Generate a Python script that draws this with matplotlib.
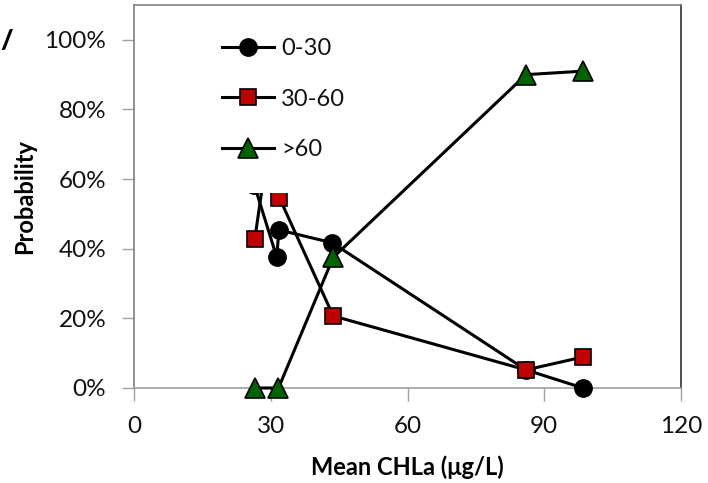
import matplotlib
matplotlib.use("Agg")
import matplotlib.pyplot as plt
from matplotlib.patches import Rectangle
from matplotlib.ticker import FuncFormatter

plt.rcParams['font.family'] = ['Lato', 'DejaVu Sans']

# Data (x = mean CHLa, y = probability)
x_0_30 = [26.4, 31.3, 31.8, 43.5, 86.0, 98.5]
y_0_30 = [0.583, 0.376, 0.454, 0.417, 0.052, 0.0]

x_30_60 = [26.5, 29.5, 31.9, 43.7, 86.0, 98.5]
y_30_60 = [0.428, 0.70, 0.546, 0.207, 0.052, 0.089]

x_gt60 = [26.5, 31.7, 43.7, 86.0, 98.5]
y_gt60 = [0.0, 0.0, 0.375, 0.90, 0.91]

labels = ['0-30', '30-60', '>60']
x_ticks = [0, 30, 60, 90, 120]
y_ticks = [0.0, 0.2, 0.4, 0.6, 0.8, 1.0]

fig = plt.figure(figsize=(7.08, 4.83), dpi=100)
ax = fig.add_axes([134/708, 1-388/483, (681-134)/708, (388-5)/483])

lw = 2.2
ax.plot(x_0_30, y_0_30, color='black', lw=lw, marker='o', ms=12.5,
        mfc='black', mec='black', mew=1, label=labels[0], clip_on=False, zorder=3)
ax.plot(x_30_60, y_30_60, color='black', lw=lw, marker='s', ms=12,
        mfc='#C00000', mec='black', mew=1.2, label=labels[1], clip_on=False, zorder=3.1)
ax.plot(x_gt60, y_gt60, color='black', lw=lw, marker='^', ms=14,
        mfc='#006400', mec='black', mew=1.2, label=labels[2], clip_on=False, zorder=3.2)

ax.set_xlim(0, 120)
ax.set_ylim(0, 1.1)
ax.set_xticks(x_ticks)
ax.set_yticks(y_ticks)
ax.yaxis.set_major_formatter(FuncFormatter(lambda v, p: f"{v*100:.0f}%"))
ax.tick_params(axis='both', labelsize=17.5, length=9, width=1, color='#A0A0A0',
               direction='out', labelcolor='#111111')
ax.tick_params(axis='x', pad=11)
ax.tick_params(axis='y', pad=11)
for s in ['left', 'top']:
    ax.spines[s].set_color('#808080')
ax.spines['bottom'].set_color('#A0A0A0')
ax.spines['right'].set_color('#303030')
for s in ax.spines.values():
    s.set_linewidth(1.2)

ax.set_xlabel('Mean CHLa (μg/L)', fontsize=17, fontweight='bold', va='center')
ax.xaxis.set_label_coords(0.5, (388-467)/383)
ax.set_ylabel('Probability', fontsize=17, fontweight='bold', va='center')
ax.yaxis.set_label_coords((25-134)/547, 0.5)

# white legend area that covers part of the plot
rect = Rectangle((0.13, (388-193)/383), 0.32, 0.99 - (388-193)/383,
                 transform=ax.transAxes, facecolor='white', edgecolor='none', zorder=4)
ax.add_patch(rect)

leg = ax.legend(loc='upper left', bbox_to_anchor=((222-134)/547, (388-38)/383),
                frameon=False, fontsize=17, handlelength=2.2, handletextpad=0.3,
                labelspacing=1.25, borderpad=0, borderaxespad=0)
leg.set_zorder(6)
for t in leg.get_texts():
    t.set_color('#111111')

fig.text(0.001, 0.915, '/', fontsize=19, fontweight='heavy', ha='left', va='center')

fig.savefig('out.png', dpi=100)
